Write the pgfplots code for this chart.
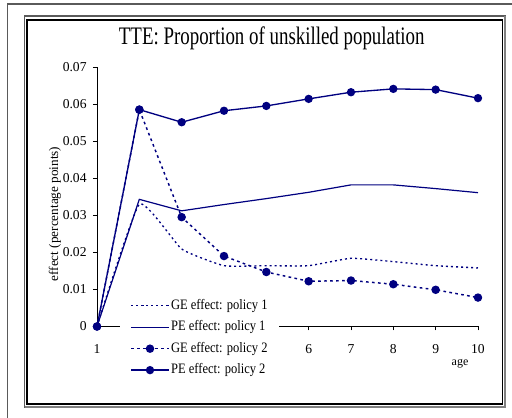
\documentclass[border=0pt]{standalone}
\usepackage{fontspec}
\setmainfont{Liberation Serif}
\newfontfamily\titlefont{Liberation Serif}[FakeStretch=0.75]
\newfontfamily\legfont{Liberation Serif}[FakeStretch=0.87]
\usepackage{pgfplots}
\pgfplotsset{compat=1.18}
\definecolor{navyc}{RGB}{0,0,128}
\definecolor{frameg}{RGB}{90,90,90}
\newcommand{\px}[2]{({#1*0.75pt},{(418-#2)*0.75pt})}
\begin{document}
\begin{tikzpicture}
\useasboundingbox (0,0) rectangle (384pt,313.5pt);
% outer partial frame
\draw[frameg, line width=0.8pt] \px{7.3}{418} -- \px{7.3}{4} -- \px{512}{4};
% double frame
\draw[frameg, line width=0.8pt] \px{24.5}{16} rectangle \px{505.3}{407.3};
\draw[gray, line width=1.4pt] \px{505.3}{16.5} -- \px{505.3}{407.3} -- \px{25}{407.3};
\draw[black, line width=0.8pt] \px{27}{20} rectangle \px{502.7}{404};
\begin{axis}[
  at={(72.75pt,68.625pt)}, anchor=south west,
  scale only axis, width=285.75pt, height=194.625pt,
  xmin=1, xmax=10, ymin=0, ymax=0.07,
  axis x line*=bottom, axis y line*=left,
  xtick={1,2,3,4,5,6,7,8,9,10},
  xticklabels={1,{},{},{},{},6,7,8,9,10},
  ytick={0,0.01,0.02,0.03,0.04,0.05,0.06,0.07},
  yticklabels={0,0.01,0.02,0.03,0.04,0.05,0.06,0.07},
  scaled y ticks=false,
  tick align=outside, major tick length=3pt,
  tick style={black, line width=0.6pt},
  axis line style={black, line width=0.6pt},
  tick label style={font=\fontsize{10.2}{11}\selectfont},
  /pgf/number format/assume math mode=true,
  xticklabel style={yshift=-7pt},
  yticklabel style={xshift=-1.3pt},
  clip=false,
  legend cell align=left,
  legend style={at={(0.0604,0.1234)}, anchor=north west, draw=none, fill=white,
    font=\legfont\fontsize{10.8}{12}\selectfont,
    inner xsep=7.5pt, inner ysep=2pt,
    nodes={inner sep=1pt, text height=8pt, text depth=2.5pt},
    row sep=3.6pt},
  legend image code/.code={\draw[mark repeat=2,mark phase=2,#1] plot coordinates {(0pt,0pt) (14.25pt,0pt) (28.5pt,0pt)};},
]
\addplot[navyc, line width=1pt, dash pattern=on 1.5pt off 2.3pt, smooth, tension=0.25]
  coordinates {(1,0) (2,0.0330) (3,0.0209) (4,0.0164) (5,0.0164) (6,0.0164) (7,0.0184) (8,0.0175) (9,0.0164) (10,0.0158)};
\addlegendentry{GE effect: policy 1}
\addplot[navyc, line width=0.9pt]
  coordinates {(1,0) (2,0.0343) (3,0.0312) (4,0.0329) (5,0.0345) (6,0.0362) (7,0.0382) (8,0.0382) (9,0.0372) (10,0.0361)};
\addlegendentry{PE effect: policy 1}
\addplot[navyc, line width=1.1pt, dash pattern=on 2pt off 2.5pt, mark=*, mark size=2.6pt, mark options={solid}]
  coordinates {(1,0) (2,0.0585) (3,0.0295) (4,0.0190) (5,0.0147) (6,0.0122) (7,0.0124) (8,0.0114) (9,0.0099) (10,0.0078)};
\addlegendentry{GE effect: policy 2}
\addplot[navyc, line width=1pt, mark=*, mark size=2.6pt]
  coordinates {(1,0) (2,0.0585) (3,0.0551) (4,0.0582) (5,0.0595) (6,0.0614) (7,0.0632) (8,0.0641) (9,0.0639) (10,0.0616)};
\addlegendentry{PE effect: policy 2}
\end{axis}
\node[font=\titlefont\fontsize{18.9}{20}\selectfont, anchor=base] at \px{271.7}{45} {TTE: Proportion of unskilled population};
\node[font=\fontsize{9.9}{11}\selectfont, rotate=90] at \px{55}{214} {effect (percentage points)};
\node[font=\fontsize{9}{11}\selectfont] at \px{460}{364} {age};
\end{tikzpicture}
\end{document}
